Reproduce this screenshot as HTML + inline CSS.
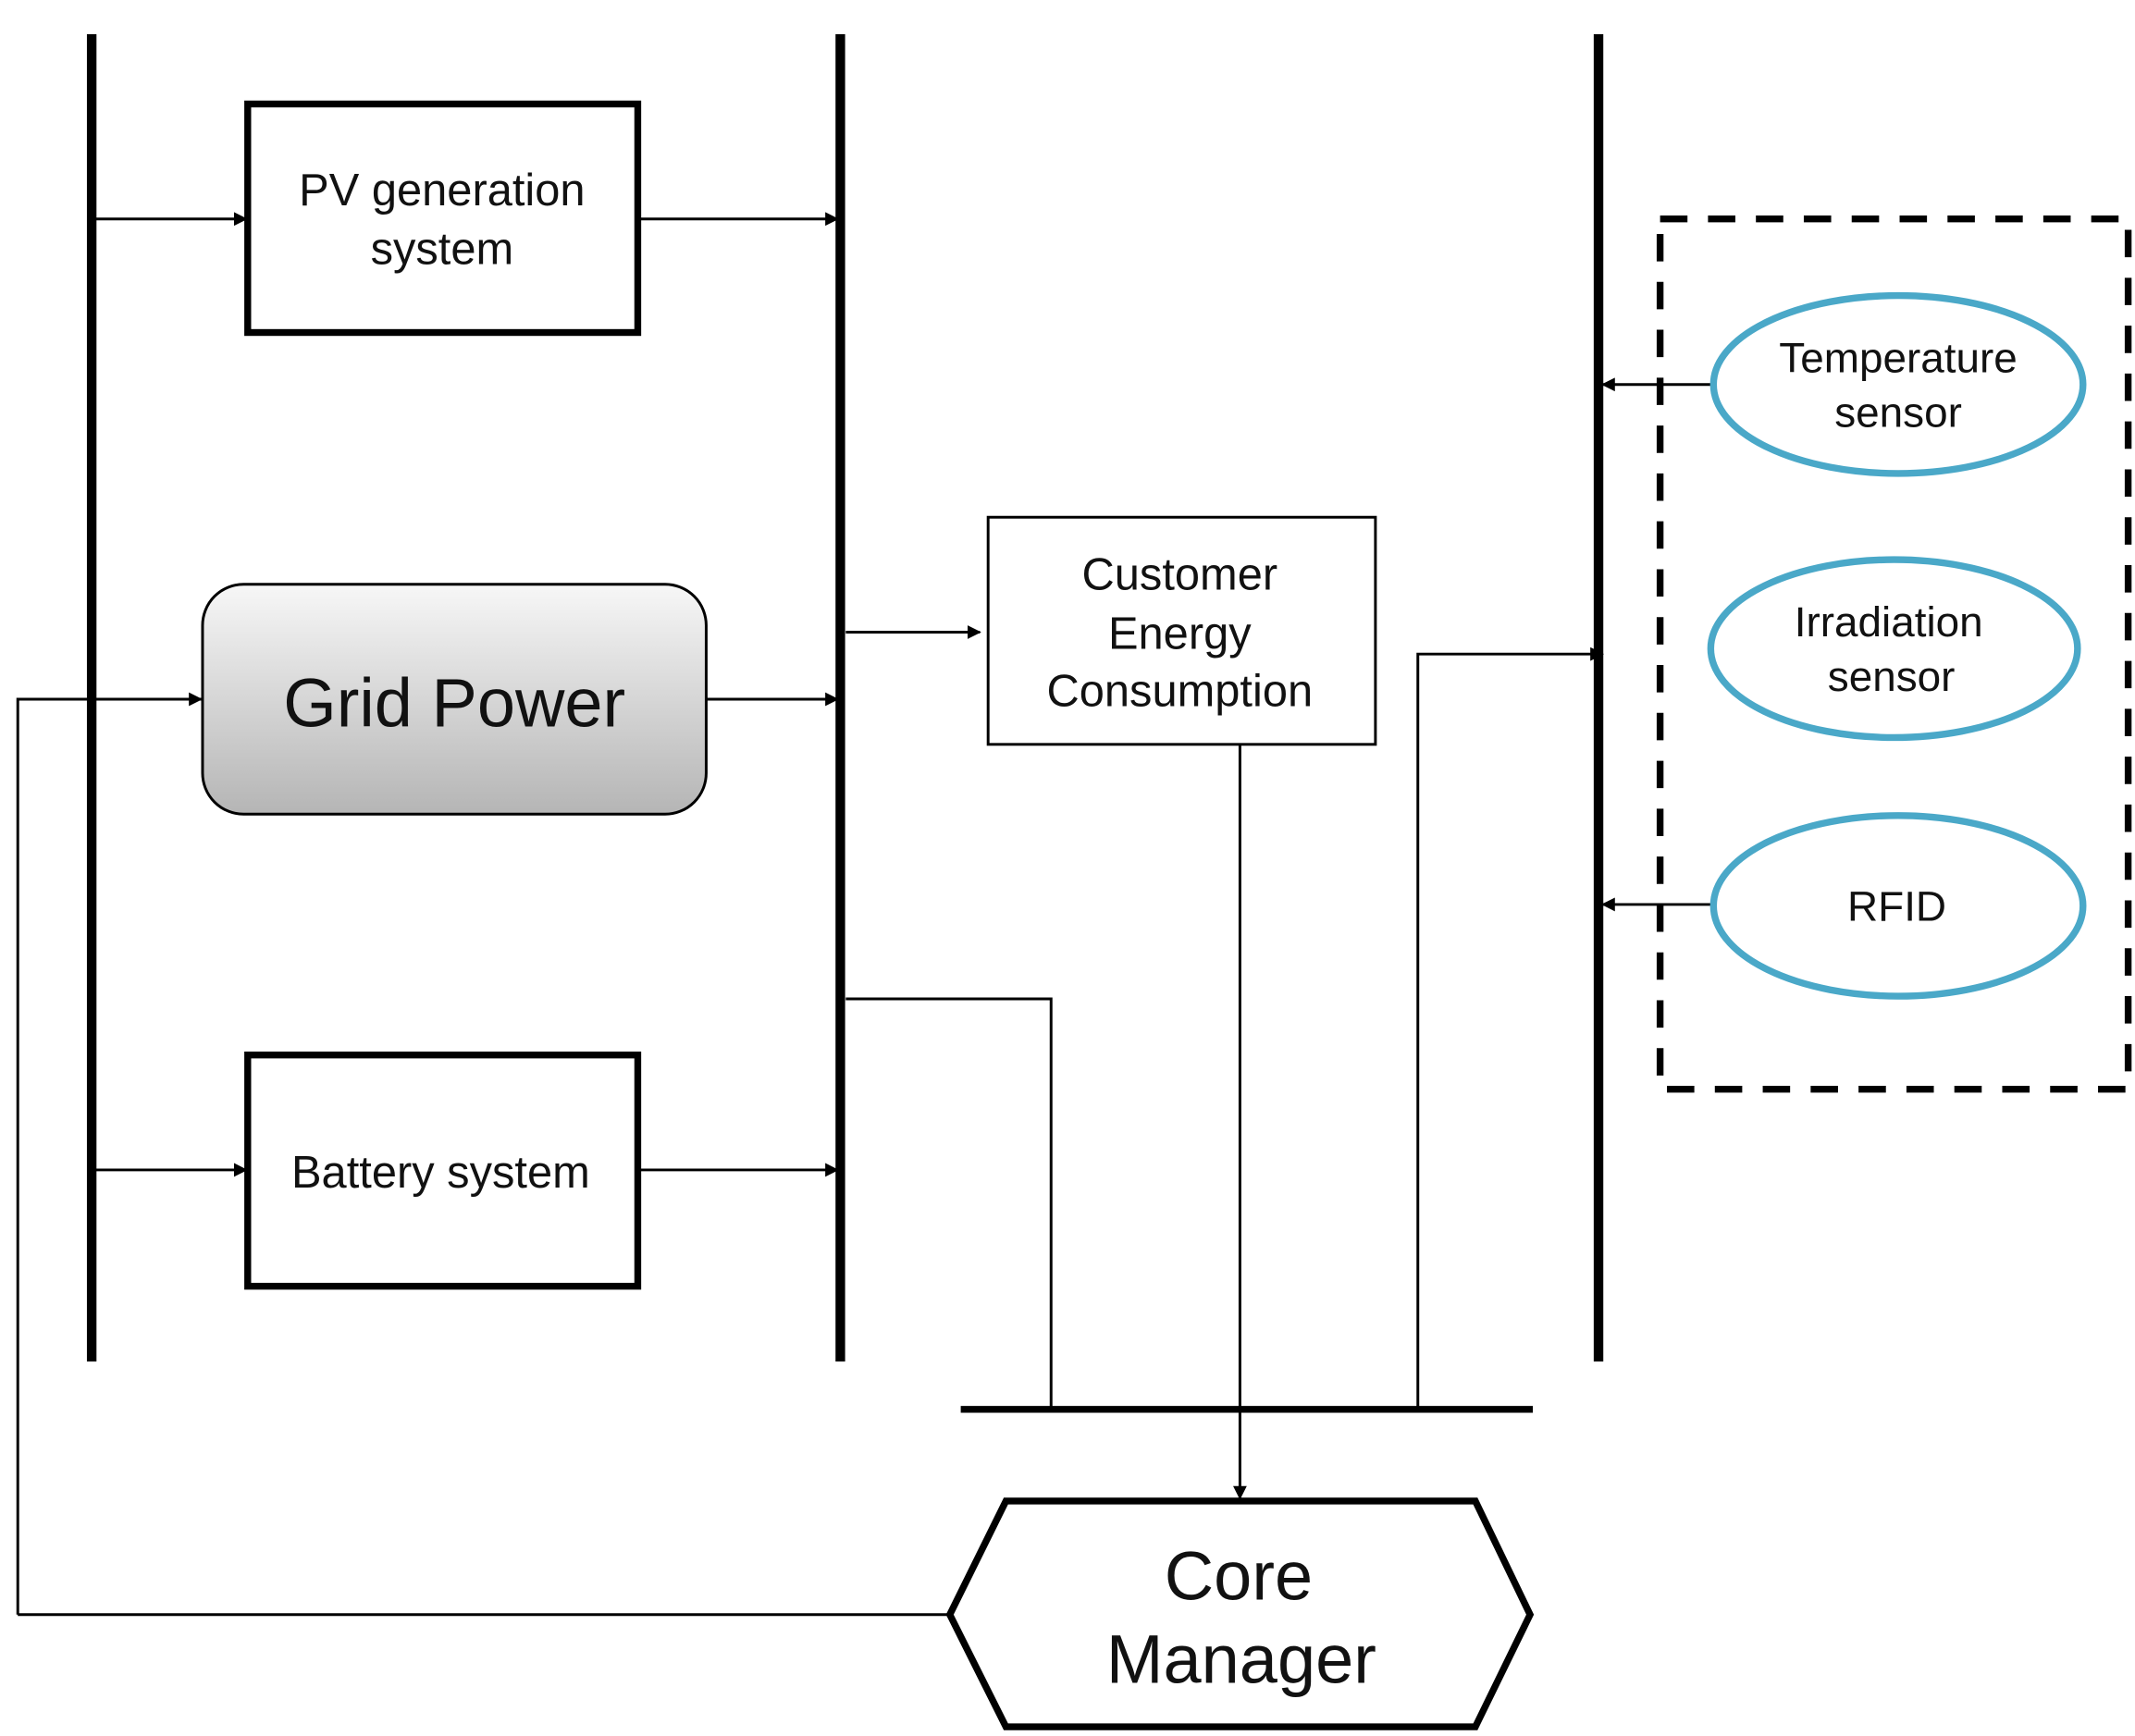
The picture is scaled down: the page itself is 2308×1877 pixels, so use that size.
<!DOCTYPE html>
<html><head><meta charset="utf-8"><style>
html,body{margin:0;padding:0;background:#fff;}
svg{display:block;}
text{font-family:"Liberation Sans",sans-serif;fill:#111;}
</style></head><body>
<svg width="2308" height="1877" viewBox="0 0 1560 1268.7" preserveAspectRatio="none" xmlns="http://www.w3.org/2000/svg">
<defs>
<marker id="ar" markerWidth="10" markerHeight="10" refX="9" refY="5" orient="auto" markerUnits="userSpaceOnUse">
<path d="M0,0 L10,5 L0,10 z" fill="#000"/></marker>
<linearGradient id="g" x1="0" y1="0" x2="0" y2="1">
<stop offset="0" stop-color="#f7f7f7"/><stop offset="1" stop-color="#b5b5b5"/></linearGradient>
</defs>
<g stroke="#000" fill="none">
<line x1="67" y1="25" x2="67" y2="995" stroke-width="7"/>
<line x1="614" y1="25" x2="614" y2="995" stroke-width="7"/>
<line x1="1168" y1="25" x2="1168" y2="995" stroke-width="7"/>
<rect x="181" y="76" width="285" height="167" stroke-width="5"/>
<rect x="181" y="771" width="285" height="169" stroke-width="5"/>
<rect x="148" y="427" width="368" height="168" rx="30" fill="url(#g)" stroke-width="2"/>
<rect x="722" y="378" width="283" height="166" stroke-width="2"/>
<g stroke-width="2">
<line x1="70" y1="160" x2="180" y2="160" marker-end="url(#ar)"/>
<line x1="468" y1="160" x2="612" y2="160" marker-end="url(#ar)"/>
<line x1="70" y1="855" x2="180" y2="855" marker-end="url(#ar)"/>
<line x1="468" y1="855" x2="612" y2="855" marker-end="url(#ar)"/>
<polyline points="13,1180 13,511 147,511" marker-end="url(#ar)"/>
<line x1="516" y1="511" x2="612" y2="511" marker-end="url(#ar)"/>
<line x1="618" y1="462" x2="716" y2="462" marker-end="url(#ar)"/>
<polyline points="618,730 768,730 768,1030"/>
<line x1="906" y1="544" x2="906" y2="1095" marker-end="url(#ar)"/>
<polyline points="1036,1030 1036,478 1171,478" marker-end="url(#ar)"/>
<line x1="1252" y1="281" x2="1171" y2="281" marker-end="url(#ar)"/>
<line x1="1250" y1="661" x2="1171" y2="661" marker-end="url(#ar)"/>
<line x1="694" y1="1180" x2="13" y2="1180"/>
</g>
<line x1="702" y1="1030" x2="1120" y2="1030" stroke-width="5"/>
<rect x="1213" y="160" width="342" height="636" stroke-width="5" stroke-dasharray="20,15"/>
<polygon points="735,1097 1078,1097 1118,1180 1078,1262 735,1262 694,1180" stroke-width="5" fill="#fff"/>
</g>
<g fill="#fff" stroke="#4aa8c8" stroke-width="5">
<ellipse cx="1387" cy="281" rx="135" ry="65"/>
<ellipse cx="1384" cy="474" rx="134" ry="65"/>
<ellipse cx="1387" cy="662" rx="135" ry="66"/>
</g>
<g text-anchor="middle" font-size="33">
<text x="323" y="150">PV generation</text>
<text x="323" y="193">system</text>
<text x="322" y="868">Battery system</text>
<text x="332" y="531" font-size="50">Grid Power</text>
<text x="862" y="431">Customer</text>
<text x="862" y="474">Energy</text>
<text x="862" y="516">Consumption</text>
<text x="1387" y="272" font-size="31">Temperature</text>
<text x="1387" y="312" font-size="31">sensor</text>
<text x="1380" y="465" font-size="31">Irradiation</text>
<text x="1382" y="505" font-size="31">sensor</text>
<text x="1386" y="673" font-size="31">RFID</text>
<text x="905" y="1169" font-size="50">Core</text>
<text x="907" y="1230" font-size="50">Manager</text>
</g>
</svg>
</body></html>
